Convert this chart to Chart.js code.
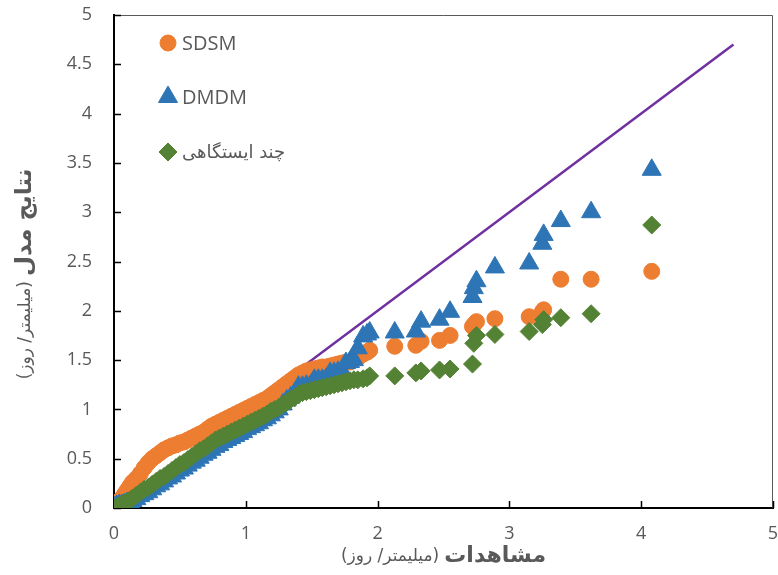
<!DOCTYPE html>
<html>
<head>
    <meta charset="utf-8">
    <title>QQ - SDSM / DMDM</title>
    <style>
        body { margin: 0; background: #fff; }
    </style>
</head>
<body>
<canvas id="qqChart" width="778" height="575"></canvas>

<script src="https://cdn.jsdelivr.net/npm/chart.js"></script>
<script>
    // sorted observed values (mm/day), shared x for all three series
    const observed = [
        0, 0.01, 0.02, 0.04, 0.06, 0.08, 0.10, 0.12, 0.14, 0.17,
        0.20, 0.23, 0.26, 0.29, 0.32, 0.35, 0.38, 0.41, 0.44, 0.47,
        0.50, 0.53, 0.56, 0.59, 0.62, 0.65, 0.68, 0.71, 0.74, 0.77,
        0.80, 0.83, 0.86, 0.89, 0.92, 0.95, 0.98, 1.01, 1.04, 1.07,
        1.10, 1.13, 1.16, 1.19, 1.22, 1.25, 1.28, 1.31, 1.34, 1.37,
        1.40, 1.43, 1.46, 1.49, 1.52, 1.55, 1.58, 1.61, 1.64, 1.67,
        1.70, 1.73, 1.76, 1.79, 1.82, 1.85, 1.89, 1.92, 1.94, 2.13,
        2.29, 2.33, 2.47, 2.55, 2.72, 2.73, 2.75, 2.89, 3.15, 3.25,
        3.26, 3.39, 3.62, 4.08
    ];
    const sdsm = [
        0, 0.02, 0.04, 0.07, 0.10, 0.14, 0.18, 0.22, 0.26, 0.30,
        0.35, 0.41, 0.46, 0.50, 0.53, 0.56, 0.59, 0.61, 0.63, 0.64,
        0.66, 0.67, 0.69, 0.71, 0.73, 0.75, 0.77, 0.80, 0.83, 0.85,
        0.87, 0.89, 0.91, 0.93, 0.95, 0.97, 0.99, 1.01, 1.03, 1.05,
        1.07, 1.09, 1.11, 1.14, 1.17, 1.20, 1.23, 1.26, 1.29, 1.32,
        1.35, 1.37, 1.39, 1.40, 1.41, 1.42, 1.43, 1.43, 1.44, 1.45,
        1.46, 1.47, 1.48, 1.48, 1.50, 1.52, 1.56, 1.58, 1.60, 1.64,
        1.65, 1.69, 1.70, 1.75, 1.84, 1.86, 1.89, 1.92, 1.94, 1.99,
        2.01, 2.32, 2.32, 2.40
    ];
    const dmdm = [
        0, 0.01, 0.02, 0.03, 0.03, 0.04, 0.05, 0.06, 0.07, 0.09,
        0.12, 0.14, 0.16, 0.19, 0.22, 0.24, 0.27, 0.30, 0.32, 0.35,
        0.38, 0.40, 0.43, 0.46, 0.48, 0.51, 0.54, 0.56, 0.59, 0.62,
        0.64, 0.67, 0.69, 0.71, 0.73, 0.75, 0.77, 0.80, 0.82, 0.84,
        0.86, 0.89, 0.91, 0.94, 0.97, 1.00, 1.05, 1.09, 1.12, 1.16,
        1.23, 1.23, 1.24, 1.24, 1.30, 1.30, 1.30, 1.31, 1.37, 1.37,
        1.38, 1.39, 1.47, 1.48, 1.50, 1.62, 1.74, 1.76, 1.78, 1.78,
        1.79, 1.89, 1.91, 1.99, 2.14, 2.23, 2.30, 2.44, 2.48, 2.68,
        2.77, 2.91, 3.00, 3.43
    ];
    const multiStation = [
        0, 0.00, 0.01, 0.02, 0.04, 0.05, 0.06, 0.08, 0.10, 0.13,
        0.16, 0.19, 0.21, 0.24, 0.27, 0.30, 0.32, 0.35, 0.38, 0.41,
        0.44, 0.46, 0.49, 0.52, 0.55, 0.58, 0.60, 0.63, 0.66, 0.69,
        0.71, 0.73, 0.75, 0.77, 0.79, 0.81, 0.83, 0.85, 0.87, 0.89,
        0.91, 0.93, 0.95, 0.98, 1.00, 1.02, 1.05, 1.07, 1.10, 1.12,
        1.15, 1.17, 1.18, 1.19, 1.20, 1.21, 1.22, 1.23, 1.24, 1.25,
        1.26, 1.27, 1.28, 1.29, 1.30, 1.30, 1.31, 1.32, 1.34, 1.34,
        1.37, 1.39, 1.40, 1.41, 1.46, 1.67, 1.75, 1.76, 1.79, 1.86,
        1.91, 1.93, 1.97, 2.87
    ];
    // 1:1 reference line
    const oneToOneX = [0, 4.7];
    const oneToOneY = [0, 4.7];

    const seriesNames = ['SDSM', 'DMDM', 'چند ایستگاهی'];
    const xTitleBold = 'مشاهدات';
    const yTitleBold = 'نتایج مدل';
    const unitText = '(میلیمتر/ روز)';

    const toPoints = (xs, ys) => xs.map((x, i) => ({x: x, y: ys[i]}));

    const labelFont = '"Open Sans", "DejaVu Sans", sans-serif';
    const farsiFont = '"DejaVu Sans", sans-serif';
    const textGray = '#595959';

    // top/right frame lines and the inward tick marks
    const frameTicks = {
        id: 'frameTicks',
        beforeDatasetsDraw(chart) {
            const {ctx, chartArea: a, scales} = chart;
            ctx.save();
            ctx.strokeStyle = '#595959';
            ctx.lineWidth = 1;
            ctx.beginPath();
            ctx.moveTo(a.left, a.top + 0.5);
            ctx.lineTo(a.right - 0.5, a.top + 0.5);
            ctx.lineTo(a.right - 0.5, a.bottom);
            ctx.stroke();

            ctx.strokeStyle = '#000';
            ctx.lineWidth = 1.5;
            ctx.beginPath();
            scales.x.ticks.forEach(t => {
                const px = Math.round(scales.x.getPixelForValue(t.value)) + 0.5;
                ctx.moveTo(px, a.bottom);
                ctx.lineTo(px, a.bottom - 7);
            });
            scales.y.ticks.forEach(t => {
                const py = Math.round(scales.y.getPixelForValue(t.value)) + 0.5;
                ctx.moveTo(a.left, py);
                ctx.lineTo(a.left + 7, py);
            });
            ctx.stroke();
            ctx.restore();
        }
    };

    // bold word + regular unit, written right to left, centred on 0
    function drawMixedTitle(ctx, bold, unit, boldSize, unitSize) {
        ctx.font = 'bold ' + boldSize + 'px ' + farsiFont;
        const wb = ctx.measureText(bold).width;
        ctx.font = unitSize + 'px ' + farsiFont;
        const wu = ctx.measureText(unit).width;
        const gap = 5;
        const right = (wb + gap + wu) / 2;
        ctx.direction = 'rtl';
        ctx.textAlign = 'right';
        ctx.textBaseline = 'middle';
        ctx.fillStyle = textGray;
        ctx.font = 'bold ' + boldSize + 'px ' + farsiFont;
        ctx.fillText(bold, right, 0);
        ctx.font = unitSize + 'px ' + farsiFont;
        ctx.fillText(unit, right - wb - gap, 1);
    }

    const titlesAndLegend = {
        id: 'titlesAndLegend',
        afterDraw(chart) {
            const {ctx, chartArea: a} = chart;

            ctx.save();
            ctx.translate((a.left + a.right) / 2, 556);
            drawMixedTitle(ctx, xTitleBold, unitText, 22, 17);
            ctx.restore();

            ctx.save();
            ctx.translate(25, 274);
            ctx.rotate(-Math.PI / 2);
            drawMixedTitle(ctx, yTitleBold, unitText, 23, 17);
            ctx.restore();

            // legend inside the plot, top-left
            const rows = [28, 82, 137];
            ctx.save();
            seriesNames.forEach((name, i) => {
                const ds = chart.data.datasets[i];
                const cx = a.left + 54;
                const cy = a.top + rows[i];
                ctx.fillStyle = ds.pointBackgroundColor;
                ctx.strokeStyle = ds.pointBorderColor;
                ctx.lineWidth = 1;
                Chart.helpers.drawPoint(ctx, {
                    pointStyle: ds.pointStyle,
                    radius: ds.pointRadius,
                    rotation: 0,
                    borderWidth: 1
                }, cx, cy);

                ctx.fillStyle = textGray;
                ctx.textBaseline = 'middle';
                ctx.textAlign = 'left';
                if (i < 2) {
                    ctx.direction = 'ltr';
                    ctx.font = '20px ' + labelFont;
                } else {
                    ctx.direction = 'rtl';
                    ctx.font = '18px ' + farsiFont;
                }
                ctx.fillText(name, cx + 14, cy + 1);
            });
            ctx.restore();
        }
    };

    // fixed axis sizes and no extra label overhang, so the plot frame stays put
    function fixX(s) {
        s.height = 67;
        s.paddingLeft = 0;
        s.paddingRight = 0;
    }
    function fixY(s) {
        s.width = 114;
        s.paddingTop = 0;
        s.paddingBottom = 0;
    }

    new Chart(document.getElementById('qqChart'), {
        type: 'scatter',
        data: {
            datasets: [
                {
                    label: seriesNames[0],
                    data: toPoints(observed, sdsm),
                    pointStyle: 'circle',
                    pointRadius: 8,
                    pointBackgroundColor: '#ED7D31',
                    pointBorderColor: '#ED7D31',
                    pointBorderWidth: 1,
                    order: 3
                },
                {
                    label: seriesNames[1],
                    data: toPoints(observed, dmdm),
                    pointStyle: 'triangle',
                    pointRadius: 11,
                    pointBackgroundColor: '#2E75B6',
                    pointBorderColor: '#2E75B6',
                    pointBorderWidth: 1,
                    order: 2
                },
                {
                    label: seriesNames[2],
                    data: toPoints(observed, multiStation),
                    pointStyle: 'rectRot',
                    pointRadius: 9,
                    pointBackgroundColor: '#548235',
                    pointBorderColor: '#548235',
                    pointBorderWidth: 1,
                    order: 1
                },
                {
                    label: '1:1',
                    data: toPoints(oneToOneX, oneToOneY),
                    showLine: true,
                    pointRadius: 0,
                    borderColor: '#7030A0',
                    borderWidth: 2.5,
                    order: 4
                }
            ]
        },
        options: {
            responsive: false,
            animation: false,
            devicePixelRatio: 1,
            events: [],
            layout: {autoPadding: false, padding: {top: 15, right: 5, left: 0, bottom: 0}},
            plugins: {
                legend: {display: false},
                tooltip: {enabled: false}
            },
            scales: {
                x: {
                    type: 'linear',
                    min: 0,
                    max: 5,
                    ticks: {
                        stepSize: 1,
                        padding: 15,
                        color: textGray,
                        font: {family: labelFont, size: 18},
                        callback: v => String(v)
                    },
                    grid: {display: false, drawTicks: false},
                    border: {color: '#000', width: 2},
                    afterFit: fixX
                },
                y: {
                    type: 'linear',
                    min: 0,
                    max: 5,
                    ticks: {
                        stepSize: 0.5,
                        padding: 22,
                        color: textGray,
                        font: {family: labelFont, size: 18},
                        callback: v => String(v)
                    },
                    grid: {display: false, drawTicks: false},
                    border: {color: '#000', width: 2},
                    afterFit: fixY
                }
            }
        },
        plugins: [frameTicks, titlesAndLegend]
    });
</script>
</body>
</html>
